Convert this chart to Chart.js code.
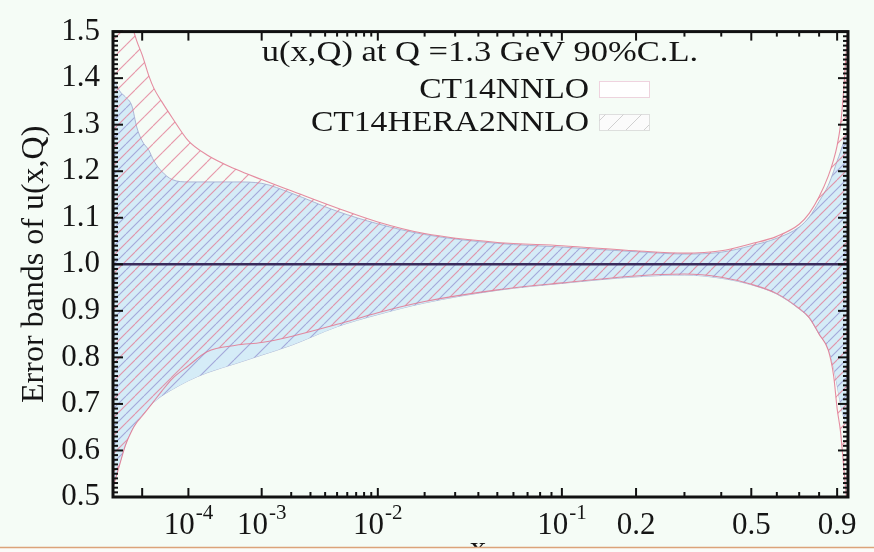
<!DOCTYPE html>
<html>
<head>
<meta charset="utf-8">
<script src="https://cdn.jsdelivr.net/npm/chart.js@4.4.0/dist/chart.umd.min.js"></script>
<style>
  html, body { margin: 0; padding: 0; background: #f5fcf6; }
  #chart { display: block; }
</style>
</head>
<body>
<canvas id="chart" width="874" height="552"></canvas>
<script>
// x grid where the band edges are sampled
var xValues = [1e-6, 2e-6, 3e-6, 5e-6, 7e-6, 1e-5, 1.5e-5, 2e-5, 3e-5, 5e-5,
               1e-4, 2e-4, 5e-4, 1e-3, 2e-3, 5e-3, 1e-2, 2e-2, 5e-2, 0.1,
               0.2, 0.3, 0.4, 0.5, 0.6, 0.7, 0.75, 0.8, 0.85, 0.88,
               0.9, 0.92, 0.94, 0.965];

// CT14NNLO error band (ratio to central fit)
var ct14Upper = [1.40, 1.37, 1.36, 1.34, 1.295, 1.265, 1.245, 1.222, 1.20, 1.182,
                 1.177, 1.177, 1.177, 1.174, 1.153, 1.114, 1.087, 1.064, 1.045, 1.037,
                 1.027, 1.022, 1.026, 1.04, 1.056, 1.08, 1.102, 1.135, 1.17, 1.20,
                 1.222, 1.242, 1.265, 1.29];
var ct14Lower = [0.525, 0.578, 0.612, 0.645, 0.662, 0.676, 0.693, 0.704, 0.717, 0.731,
                 0.75, 0.767, 0.787, 0.805, 0.826, 0.866, 0.892, 0.917, 0.944, 0.959,
                 0.973, 0.977, 0.97, 0.956, 0.936, 0.904, 0.884, 0.85, 0.818, 0.778,
                 0.74, 0.70, 0.67, 0.65];

// CT14HERA2NNLO error band
var heraUpper = [1.75, 1.64, 1.58, 1.515, 1.48, 1.45, 1.405, 1.378, 1.35, 1.315,
                 1.265, 1.235, 1.204, 1.182, 1.158, 1.121, 1.091, 1.066, 1.047, 1.040,
                 1.029, 1.024, 1.029, 1.044, 1.06, 1.086, 1.11, 1.145, 1.19, 1.225,
                 1.255, 1.30, 1.38, 1.52];
var heraLower = [0.52, 0.575, 0.61, 0.643, 0.66, 0.674, 0.692, 0.706, 0.727, 0.754,
                 0.782, 0.812, 0.826, 0.832, 0.845, 0.871, 0.896, 0.920, 0.945, 0.960,
                 0.975, 0.979, 0.972, 0.957, 0.937, 0.905, 0.885, 0.85, 0.815, 0.76,
                 0.69, 0.64, 0.56, 0.46];

// central fit, normalised to one
var centralX = [1e-6, 0.965];
var centralValues = [1.0, 1.0];

// axis ticks
var xTickValues = [1e-4, 1e-3, 1e-2, 0.1, 0.2, 0.5, 0.9];
var xTickLabels = ['10', '10', '10', '10', '0.2', '0.5', '0.9'];
var xTickExps = ['-4', '-3', '-2', '-1', '', '', ''];
var xMajorTicks = [1e-5, 1e-4, 1e-3, 1e-2, 0.1, 0.2, 0.5, 0.9];
var xMinorTicks = [2e-3, 3e-3, 4e-3, 5e-3, 6e-3, 7e-3, 8e-3, 9e-3,
                   2e-2, 3e-2, 4e-2, 5e-2, 6e-2, 7e-2, 8e-2, 9e-2,
                   0.3, 0.4, 0.6, 0.7, 0.8];

// the x axis is linear in x^0.2
function xpos(x) { return Math.pow(x, 0.2); }

function points(xs, ys) {
  return xs.map(function(x, i) { return { x: xpos(x), y: ys[i] }; });
}

var SERIF = '"Liberation Serif", "Times New Roman", serif';
var TILE = 18;

function hatch(bg, color, offset, width) {
  var c = document.createElement('canvas');
  c.width = TILE; c.height = TILE;
  var g = c.getContext('2d');
  if (bg) { g.fillStyle = bg; g.fillRect(0, 0, TILE, TILE); }
  g.strokeStyle = color;
  g.lineWidth = width;
  for (var k = -2; k <= 2; k++) {
    var o = k * TILE + offset;
    g.beginPath(); g.moveTo(o, TILE); g.lineTo(o + TILE, 0); g.stroke();
  }
  return g.createPattern(c, 'repeat');
}

var bluePattern = hatch('#d5ecf7', 'rgba(150,150,210,0.8)', 0, 1.1);
var pinkPattern = hatch(null, 'rgba(228,125,150,0.8)', TILE / 2, 1.1);
var keyPattern = hatch('#fbfbfb', 'rgba(190,190,190,0.7)', 0, 1);

function stretchText(ctx, text, x, y, align, size, sx) {
  ctx.save();
  ctx.font = size + 'px ' + SERIF;
  ctx.textAlign = align;
  ctx.textBaseline = 'alphabetic';
  ctx.fillStyle = '#151515';
  ctx.translate(x, y);
  ctx.scale(sx, 1);
  ctx.fillText(text, 0, 0);
  ctx.restore();
}

// frame and inward ticks on all four sides, x labels with exponents
var frameTicks = {
  id: 'frameTicks',
  afterDatasetsDraw: function(chart) {
    var ctx = chart.ctx, a = chart.chartArea;
    var xs = chart.scales.x, ys = chart.scales.y;
    ctx.save();
    ctx.strokeStyle = '#111';
    ctx.lineWidth = 2;
    function seg(x1, y1, x2, y2) {
      ctx.beginPath(); ctx.moveTo(x1, y1); ctx.lineTo(x2, y2); ctx.stroke();
    }
    function tickX(v, len) {
      var p = xs.getPixelForValue(xpos(v));
      seg(p, a.bottom, p, a.bottom - len);
      seg(p, a.top, p, a.top + len);
    }
    function tickY(v, len) {
      var p = ys.getPixelForValue(v);
      seg(a.left, p, a.left + len, p);
      seg(a.right, p, a.right - len, p);
    }
    xMajorTicks.forEach(function(v) { tickX(v, 9); });
    xMinorTicks.forEach(function(v) { tickX(v, 5); });
    for (var i = 50; i <= 150; i++) {
      tickY(i / 100, i % 10 === 0 ? 10 : 5);
    }
    ctx.lineWidth = 3;
    ctx.strokeRect(a.left, a.top, a.right - a.left, a.bottom - a.top);
    ctx.restore();
  },
  afterDraw: function(chart) {
    var ctx = chart.ctx, a = chart.chartArea, xs = chart.scales.x;
    var base = a.bottom + 37;
    ctx.save();
    ctx.fillStyle = '#151515';
    ctx.textBaseline = 'alphabetic';
    ctx.textAlign = 'left';
    xTickValues.forEach(function(v, i) {
      var p = xs.getPixelForValue(xpos(v));
      ctx.font = '31px ' + SERIF;
      var wb = ctx.measureText(xTickLabels[i]).width;
      ctx.font = '21px ' + SERIF;
      var we = xTickExps[i] ? ctx.measureText(xTickExps[i]).width + 1 : 0;
      var x0 = p - (wb + we) / 2;
      ctx.font = '31px ' + SERIF;
      ctx.fillText(xTickLabels[i], x0, base);
      if (xTickExps[i]) {
        ctx.font = '21px ' + SERIF;
        ctx.fillText(xTickExps[i], x0 + wb + 1, base - 15);
      }
    });
    ctx.restore();

    // key
    stretchText(ctx, 'u(x,Q) at Q =1.3 GeV 90%C.L.', 480, 61, 'center', 30, 1.15);
    stretchText(ctx, 'CT14NNLO', 589, 98, 'right', 30, 1.12);
    stretchText(ctx, 'CT14HERA2NNLO', 589, 131, 'right', 30, 1.12);
    ctx.save();
    ctx.fillStyle = '#ffffff';
    ctx.fillRect(599, 81, 50, 16);
    ctx.strokeStyle = 'rgba(235,200,215,0.8)';
    ctx.lineWidth = 1;
    ctx.strokeRect(599.5, 81.5, 50, 16);
    ctx.fillStyle = keyPattern;
    ctx.fillRect(599, 114, 50, 16);
    ctx.strokeStyle = 'rgba(215,215,215,0.8)';
    ctx.strokeRect(599.5, 114.5, 50, 16);
    ctx.restore();

    // axis title, partly hidden by the strip below
    stretchText(ctx, 'x', 478, 557, 'center', 30, 1.1);
    ctx.save();
    ctx.fillStyle = '#fbfbf8';
    ctx.fillRect(0, 547, 874, 5);
    ctx.strokeStyle = '#dca37a';
    ctx.lineWidth = 1.5;
    ctx.beginPath(); ctx.moveTo(0, 547.5); ctx.lineTo(874, 547.5); ctx.stroke();
    ctx.restore();
  }
};

new Chart(document.getElementById('chart'), {
  type: 'line',
  data: {
    datasets: [
      {
        label: 'central',
        data: points(centralX, centralValues),
        borderColor: '#3a2c5c',
        borderWidth: 2.4,
        fill: false
      },
      {
        label: 'CT14HERA2NNLO',
        data: points(xValues, heraUpper),
        borderColor: 'rgba(226,120,145,0.85)',
        borderWidth: 1.1,
        backgroundColor: pinkPattern,
        fill: '+1'
      },
      {
        label: 'CT14HERA2NNLO lower',
        data: points(xValues, heraLower),
        borderColor: 'rgba(226,120,145,0.85)',
        borderWidth: 1.1,
        fill: false
      },
      {
        label: 'CT14NNLO',
        data: points(xValues, ct14Upper),
        borderColor: 'rgba(165,175,210,0.9)',
        borderWidth: 1,
        backgroundColor: bluePattern,
        fill: '+1'
      },
      {
        label: 'CT14NNLO lower',
        data: points(xValues, ct14Lower),
        borderColor: 'rgba(165,175,210,0.9)',
        borderWidth: 1,
        fill: false
      }
    ]
  },
  options: {
    responsive: false,
    animation: false,
    layout: { padding: { top: 17, right: 26, left: 0, bottom: 0 } },
    elements: {
      point: { radius: 0 },
      line: { cubicInterpolationMode: 'monotone' }
    },
    plugins: { legend: { display: false }, tooltip: { enabled: false } },
    scales: {
      x: {
        type: 'linear',
        min: xpos(1e-6),
        max: xpos(0.965),
        grid: { display: false, drawTicks: false },
        border: { display: false },
        afterFit: function(scale) { scale.height = 55; },
        ticks: { display: false }
      },
      y: {
        min: 0.5,
        max: 1.5,
        grid: { display: false, drawTicks: false },
        border: { display: false },
        afterFit: function(scale) { scale.width = 113; },
        ticks: {
          stepSize: 0.1,
          padding: 13,
          color: '#151515',
          font: { family: SERIF, size: 31 },
          callback: function(v) { return v.toFixed(1); }
        },
        title: {
          display: true,
          text: 'Error bands of u(x,Q)',
          color: '#151515',
          font: { family: SERIF, size: 32 },
          padding: { top: 15, bottom: 0 }
        }
      }
    }
  },
  plugins: [frameTicks]
});
</script>
</body>
</html>
